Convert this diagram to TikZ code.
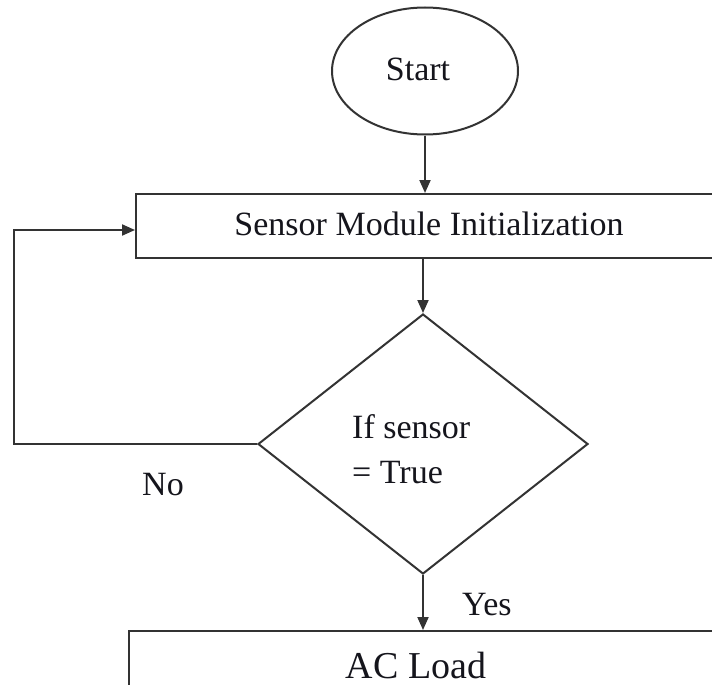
\documentclass[tikz,border=0pt]{standalone}
\usepackage{fontspec}
\setmainfont{Liberation Serif}
\usetikzlibrary{shapes.geometric,arrows.meta}
\definecolor{ln}{HTML}{333333}
\definecolor{tx}{HTML}{15151C}
\tikzset{
  line/.style={draw=ln,line width=2pt},
  arr/.style={line,-{Triangle[length=13pt,width=11pt]}},
  lbl/.style={text=tx,font=\fontsize{34}{40}\selectfont,inner sep=0pt,anchor=base},
}
\begin{document}
\begin{tikzpicture}[x=1pt,y=-1pt]
\useasboundingbox (0,0) rectangle (712,685);
\fill[white] (0,0) rectangle (712,685);
% shapes
\node[line,ellipse,minimum width=186pt,minimum height=127pt,inner sep=0pt] (start) at (425,71) {};
\node[line,rectangle,minimum width=578pt,minimum height=64pt,inner sep=0pt] (init) at (425,226) {};
\node[line,diamond,minimum width=330pt,minimum height=260pt,inner sep=0pt] (dec) at (423,444) {};
\node[line,rectangle,minimum width=588pt,minimum height=100pt,inner sep=0pt] (acbox) at (423,681) {};
% texts
\node[lbl] (starttxt) at (418,81) {Start};
\node[lbl] (inittxt) at (429,235) {Sensor Module Initialization};
\node[lbl,anchor=base west] (dectxt1) at (352,438) {If sensor};
\node[lbl,anchor=base west] (dectxt2) at (352,483) {= True};
\node[lbl,anchor=base west] (notxt) at (142,495) {No};
\node[lbl,anchor=base west] (yestxt) at (462,615) {Yes};
\node[lbl,font=\fontsize{38}{44}\selectfont] (actxt) at (416,678) {AC Load};
% connectors
\coordinate (loopc) at (14,444);
\draw[arr] (start.south) -- (init.north);
\draw[arr] (init.south -| dec.north) -- (dec.north);
\draw[arr] (dec.south) -- (acbox.north);
\draw[arr] (dec.west) -- (loopc) |- ([yshift=-4pt]init.west);
\end{tikzpicture}
\end{document}
